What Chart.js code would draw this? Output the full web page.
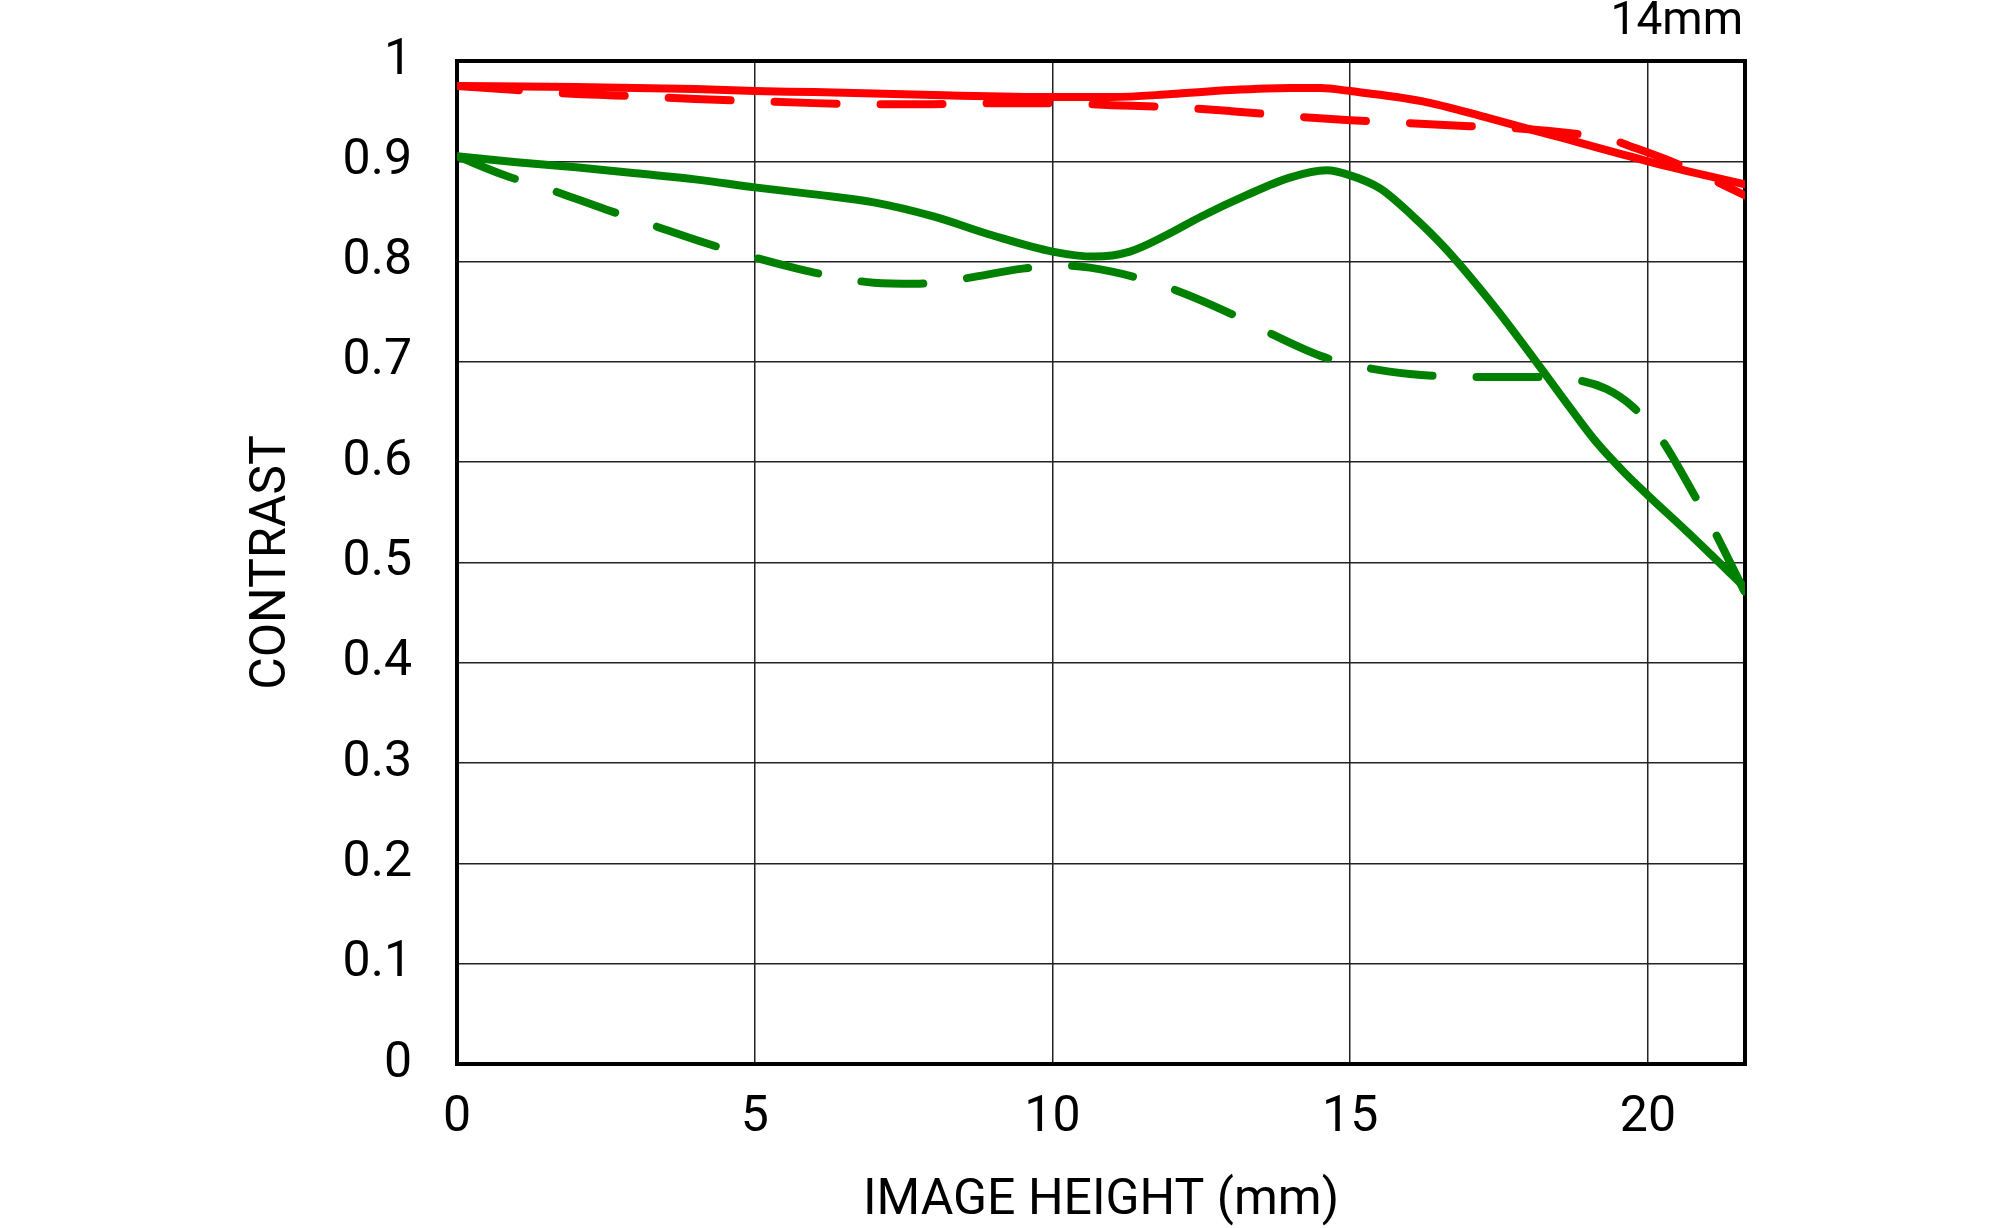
<!DOCTYPE html>
<html>
<head>
<meta charset="utf-8">
<title>MTF 14mm</title>
<style>
  html, body { margin: 0; padding: 0; background: #fff; }
  #wrap { width: 2000px; height: 1228px; }
</style>
</head>
<body>
<div id="wrap"><canvas id="mtfChart"></canvas></div>
<script src="https://cdn.jsdelivr.net/npm/chart.js@4.4.1/dist/chart.umd.min.js"></script>
<script>
// values
const focalLabel = '14mm';
const xTitle = 'IMAGE HEIGHT (mm)';
const yTitle = 'CONTRAST';
const imageHeightMax = 21.63;

// 10 lp/mm, sagittal (red solid)
const red10SX = [0, 2, 4, 5, 6, 8, 10, 11, 12, 13, 14, 14.5, 15, 16.2, 17.33, 18.45, 20, 20.97, 21.63];
const red10SY = [0.975, 0.974, 0.972, 0.970, 0.969, 0.966, 0.964, 0.964, 0.967, 0.971, 0.973, 0.973, 0.970, 0.960, 0.943, 0.925, 0.900, 0.886, 0.877];

// 10 lp/mm, meridional (red dashed)
const red10MX = [0, 1, 2, 3, 4, 5, 6, 7, 8, 9, 10, 11, 12, 13, 14, 15, 16, 17, 18, 18.7, 19.3, 19.8, 20.3, 21, 21.63];
const red10MY = [0.975, 0.971, 0.967, 0.965, 0.962, 0.960, 0.958, 0.957, 0.957, 0.958, 0.958, 0.956, 0.954, 0.950, 0.945, 0.941, 0.938, 0.935, 0.932, 0.928, 0.923, 0.913, 0.902, 0.884, 0.866];

// 30 lp/mm, sagittal (green solid)
const green30SX = [0, 1, 2, 3, 4, 5, 6, 7, 8, 9, 10, 10.7, 11.3, 11.9, 12.5, 13.25, 14, 14.6, 15, 15.5, 16.04, 16.6, 17.45, 18, 18.56, 19.12, 19.6, 20, 20.67, 21.63];
const green30SY = [0.905, 0.899, 0.894, 0.888, 0.882, 0.874, 0.867, 0.859, 0.845, 0.826, 0.810, 0.805, 0.810, 0.826, 0.845, 0.866, 0.884, 0.891, 0.886, 0.873, 0.846, 0.813, 0.753, 0.710, 0.665, 0.621, 0.590, 0.567, 0.530, 0.475];

// 30 lp/mm, meridional (green dashed)
const green30MX = [0, 0.8, 1.5, 2.5, 3.2, 4.2, 5, 6, 7, 7.7, 8.5, 9.5, 10.2, 11, 12, 13, 13.5, 14.5, 15.2, 16, 17, 18, 18.7, 19.3, 19.75, 20.2, 20.8, 21.1, 21.63];
const green30MY = [0.905, 0.886, 0.873, 0.852, 0.838, 0.818, 0.804, 0.789, 0.779, 0.778, 0.783, 0.793, 0.796, 0.790, 0.773, 0.748, 0.733, 0.706, 0.695, 0.688, 0.685, 0.685, 0.683, 0.673, 0.655, 0.625, 0.565, 0.533, 0.470];

const RED = '#ff0000';
const GREEN = '#008000';
const FONT = 'Roboto';

function toPoints(xs, ys) {
  return xs.map((x, i) => ({ x, y: ys[i] }));
}

function series(label, xs, ys, color, dashed) {
  return {
    label,
    data: toPoints(xs, ys),
    borderColor: color,
    borderWidth: 8,
    borderDash: dashed ? [62, 44] : [],
    borderCapStyle: 'round',
    borderJoinStyle: 'round',
    cubicInterpolationMode: 'monotone',
    pointRadius: 0,
    fill: false,
    clip: 0,
  };
}

// frame round the plot, plus the free texts
const frameAndTitles = {
  id: 'frameAndTitles',
  beforeDatasetsDraw(chart) {
    const { ctx, chartArea: a } = chart;
    ctx.save();
    ctx.strokeStyle = '#000';
    ctx.lineWidth = 4;
    ctx.strokeRect(a.left, a.top, a.right - a.left, a.bottom - a.top);
    ctx.restore();
  },
  afterDraw(chart) {
    const { ctx, chartArea: a } = chart;
    ctx.save();
    ctx.fillStyle = '#000';
    ctx.font = '46px ' + FONT;
    ctx.textAlign = 'right';
    ctx.textBaseline = 'alphabetic';
    ctx.fillText(focalLabel, a.right - 2, 34);

    ctx.font = '50px ' + FONT;
    ctx.textAlign = 'center';
    ctx.textBaseline = 'middle';
    ctx.fillText(xTitle, (a.left + a.right) / 2, 1201);

    ctx.translate(272, (a.top + a.bottom) / 2);
    ctx.rotate(-Math.PI / 2);
    ctx.fillText(yTitle, 0, 0);
    ctx.restore();
  }
};

new Chart(document.getElementById('mtfChart'), {
  type: 'line',
  data: {
    datasets: [
      series('30 lp/mm M', green30MX, green30MY, GREEN, true),
      series('30 lp/mm S', green30SX, green30SY, GREEN, false),
      series('10 lp/mm M', red10MX, red10MY, RED, true),
      series('10 lp/mm S', red10SX, red10SY, RED, false),
    ]
  },
  options: {
    responsive: true,
    maintainAspectRatio: false,
    animation: false,
    devicePixelRatio: 1,
    layout: { padding: { top: 61, right: 255, bottom: 0, left: 0 } },
    plugins: {
      legend: { display: false },
      tooltip: { enabled: false },
    },
    scales: {
      x: {
        type: 'linear',
        min: 0,
        max: imageHeightMax,
        afterFit(scale) {
          scale.height = 164;
          scale.paddingLeft = 0;
          scale.paddingRight = 0;
        },
        border: { display: false },
        grid: { color: '#222', lineWidth: 1.5, drawTicks: false },
        ticks: {
          stepSize: 5,
          includeBounds: false,
          padding: 24,
          color: '#000',
          font: { family: FONT, size: 50 },
          callback: v => String(v),
        },
      },
      y: {
        min: 0,
        max: 1,
        afterFit(scale) {
          scale.width = 457;
          scale.paddingTop = 0;
          scale.paddingBottom = 0;
        },
        border: { display: false },
        grid: { color: '#222', lineWidth: 1.5, drawTicks: false },
        ticks: {
          stepSize: 0.1,
          padding: 45,
          color: '#000',
          font: { family: FONT, size: 50 },
          callback: v => String(Math.round(v * 10) / 10),
        },
      },
    },
  },
  plugins: [frameAndTitles],
});
</script>
</body>
</html>
